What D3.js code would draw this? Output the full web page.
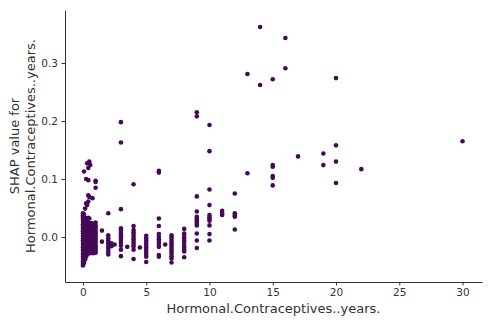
<!DOCTYPE html>
<html lang='en'>
<head>
  <meta charset='UTF-8'>
  <title>SHAP dependence</title>
  <script src='https://d3js.org/d3.v7.min.js'></script>
  <style>
    html, body { margin: 0; padding: 0; background: #fff; }
    #main { width: 492px; height: 323px; }
    text { font-family: 'DejaVu Sans', sans-serif; }
  </style>
</head>
<body>
<div id='main'></div>
<script>
  // feature value (years) for each column of dots
  const hcYears = [0, 0.08, 0.17, 0.25, 0.33, 0.42, 0.5, 0.58, 0.67, 0.75, 0.83, 0.92, 1,
    1.5, 2, 2.25, 2.5, 3, 3.5, 4, 4.5, 5, 6, 6.5, 7, 8, 9, 10, 11, 12, 13, 14, 15, 16, 17, 19, 20, 22, 30]
  // SHAP values read per column, same order as hcYears
  const shapValues = [
    [0.026, 0.041, 0.037, 0.034, 0.030, 0.022, 0.018, 0.014, 0.010, 0.006, 0.002, -0.002, -0.006, -0.010, -0.014, -0.018, -0.022, -0.026, -0.030, -0.034, -0.038, -0.042, -0.046, -0.049],
    [0.113, 0.039, 0.035, 0.031, 0.027, 0.023, 0.019, 0.015, 0.011, 0.007, 0.003, -0.001, -0.005, -0.009, -0.013, -0.017, -0.021, -0.025, -0.029, -0.033, -0.037, -0.041, -0.045],
    [0.049, 0.033, 0.029, 0.025, 0.021, 0.017, 0.013, 0.009, 0.005, 0.001, -0.003, -0.007, -0.011, -0.015, -0.019, -0.023, -0.027, -0.031, -0.035, -0.039],
    [0.100, 0.058, 0.030, 0.026, 0.022, 0.018, 0.014, 0.010, 0.006, 0.002, -0.002, -0.006, -0.010, -0.014, -0.018, -0.022, -0.026, -0.030, -0.034],
    [0.127, 0.055, 0.026, 0.022, 0.018, 0.014, 0.010, 0.006, 0.002, -0.002, -0.006, -0.010, -0.014, -0.018, -0.022, -0.026, -0.030],
    [0.119, 0.098, 0.072, 0.061, 0.033, 0.024, 0.020, 0.016, 0.012, 0.008, 0.004, 0.000, -0.004, -0.008, -0.012, -0.016, -0.020, -0.024, -0.028],
    [0.130, 0.069, 0.032, 0.022, 0.018, 0.014, 0.010, 0.006, 0.002, -0.002, -0.006, -0.010, -0.014, -0.018, -0.022, -0.026],
    [0.124, 0.023, 0.019, 0.015, 0.011, 0.007, 0.003, -0.001, -0.005, -0.009, -0.013, -0.017, -0.021, -0.025, -0.028],
    [0.024, 0.020, 0.016, 0.012, 0.008, 0.004, 0.000, -0.004, -0.008, -0.012, -0.016, -0.020, -0.024],
    [0.067, 0.022, 0.018, 0.014, 0.010, 0.006, 0.002, -0.002, -0.006, -0.010, -0.014, -0.018, -0.022, -0.026],
    [0.022, 0.018, 0.014, 0.010, 0.006, 0.002, -0.002, -0.006, -0.010, -0.014, -0.018, -0.022, -0.026, -0.028],
    [0.023, 0.019, 0.015, 0.011, 0.007, 0.003, -0.001, -0.005, -0.009, -0.013, -0.017, -0.021, -0.025],
    [0.097, 0.095, 0.085, 0.025, 0.020, 0.016, 0.012, 0.008, 0.004, 0.000, -0.004, -0.008, -0.012, -0.016, -0.020, -0.024, -0.027],
    [0.011, -0.008],
    [0.041, 0.003, -0.002, -0.006, -0.010, -0.014, -0.018, -0.022, -0.026, -0.030],
    [-0.011, -0.016],
    [-0.013],
    [0.198, 0.163, 0.048, 0.015, 0.011, 0.007, 0.003, -0.001, -0.005, -0.010, -0.015, -0.022, -0.033],
    [-0.017],
    [0.091, 0.019, 0.012, 0.008, 0.004, 0.000, -0.004, -0.008, -0.012, -0.016, -0.022, -0.038],
    [-0.018],
    [0.002, -0.002, -0.006, -0.010, -0.014, -0.018, -0.022, -0.026, -0.030, -0.034, -0.043],
    [0.114, 0.111, 0.032, 0.019, 0.005, 0.000, -0.004, -0.008, -0.012, -0.017, -0.031, -0.034],
    [-0.013],
    [0.003, -0.001, -0.005, -0.009, -0.013, -0.017, -0.021, -0.025, -0.029, -0.033, -0.037, -0.044],
    [0.014, 0.006, 0.002, -0.002, -0.006, -0.010, -0.014, -0.018, -0.022, -0.025, -0.035],
    [0.215, 0.208, 0.070, 0.044, 0.035, 0.032, 0.029, 0.026, 0.023, 0.020, 0.006, -0.006, -0.019],
    [0.193, 0.148, 0.082, 0.055, 0.038, 0.034, 0.031, 0.028, 0.020, 0.005, -0.006],
    [0.045, 0.041, 0.038],
    [0.075, 0.041, 0.037, 0.035, 0.013],
    [0.281, 0.110],
    [0.362, 0.262],
    [0.272, 0.124, 0.121, 0.105, 0.102, 0.089],
    [0.343, 0.291],
    [0.139],
    [0.144, 0.124],
    [0.274, 0.158, 0.130, 0.093],
    [0.117],
    [0.165]
  ]
  const xTicks = [0, 5, 10, 15, 20, 25, 30]
  const yTicks = [0.0, 0.1, 0.2, 0.3]

  const width = 492
  const height = 323
  const margin = { left: 65, right: 10, top: 10, bottom: 41 }
  const axisColor = '#333333'
  const dotColor = '#450a57'

  const points = []
  hcYears.forEach((x, i) => {
    shapValues[i].forEach(v => points.push({ x: x, y: v }))
  })

  const svg = d3.select('#main').append('svg')
    .attr('width', width)
    .attr('height', height)

  const x = d3.scaleLinear()
    .domain([-1.42, 31.54])
    .range([margin.left, width - margin.right])
  const y = d3.scaleLinear()
    .domain([-0.0776, 0.3914])
    .range([height - margin.bottom, margin.top])

  // points
  svg.append('g')
    .selectAll('circle')
    .data(points)
    .enter()
    .append('circle')
    .attr('cx', d => x(d.x))
    .attr('cy', d => y(d.y))
    .attr('r', 2.3)
    .attr('fill', dotColor)

  // x axis
  const gx = svg.append('g')
    .attr('transform', `translate(0, ${height - margin.bottom})`)
    .call(d3.axisBottom(x).tickValues(xTicks).tickFormat(d3.format('d')).tickSize(3.5).tickPadding(3.5).tickSizeOuter(0))
  // y axis
  const gy = svg.append('g')
    .attr('transform', `translate(${margin.left}, 0)`)
    .call(d3.axisLeft(y).tickValues(yTicks).tickFormat(d3.format('.1f')).tickSize(3.5).tickPadding(3.5).tickSizeOuter(0))

  ;[gx, gy].forEach(g => {
    g.select('.domain').attr('stroke', axisColor).attr('stroke-width', 1)
    g.selectAll('.tick line').attr('stroke', axisColor)
    g.selectAll('.tick text')
      .attr('fill', axisColor)
      .style('font-size', '10.5px')
      .style('font-family', "'DejaVu Sans', sans-serif")
  })

  // axis labels
  svg.append('text')
    .attr('x', (margin.left + width - margin.right) / 2)
    .attr('y', 313)
    .attr('text-anchor', 'middle')
    .attr('fill', axisColor)
    .style('font-size', '13px')
    .text('Hormonal.Contraceptives..years.')

  const midY = (margin.top + height - margin.bottom) / 2
  const ylab = svg.append('text')
    .attr('transform', `translate(0, ${midY}) rotate(-90)`)
    .attr('text-anchor', 'middle')
    .attr('fill', axisColor)
    .style('font-size', '13px')
  ylab.append('tspan').attr('x', 0).attr('y', 19).text('SHAP value for')
  ylab.append('tspan').attr('x', 0).attr('y', 35).text('Hormonal.Contraceptives..years.')
</script>
</body>
</html>
